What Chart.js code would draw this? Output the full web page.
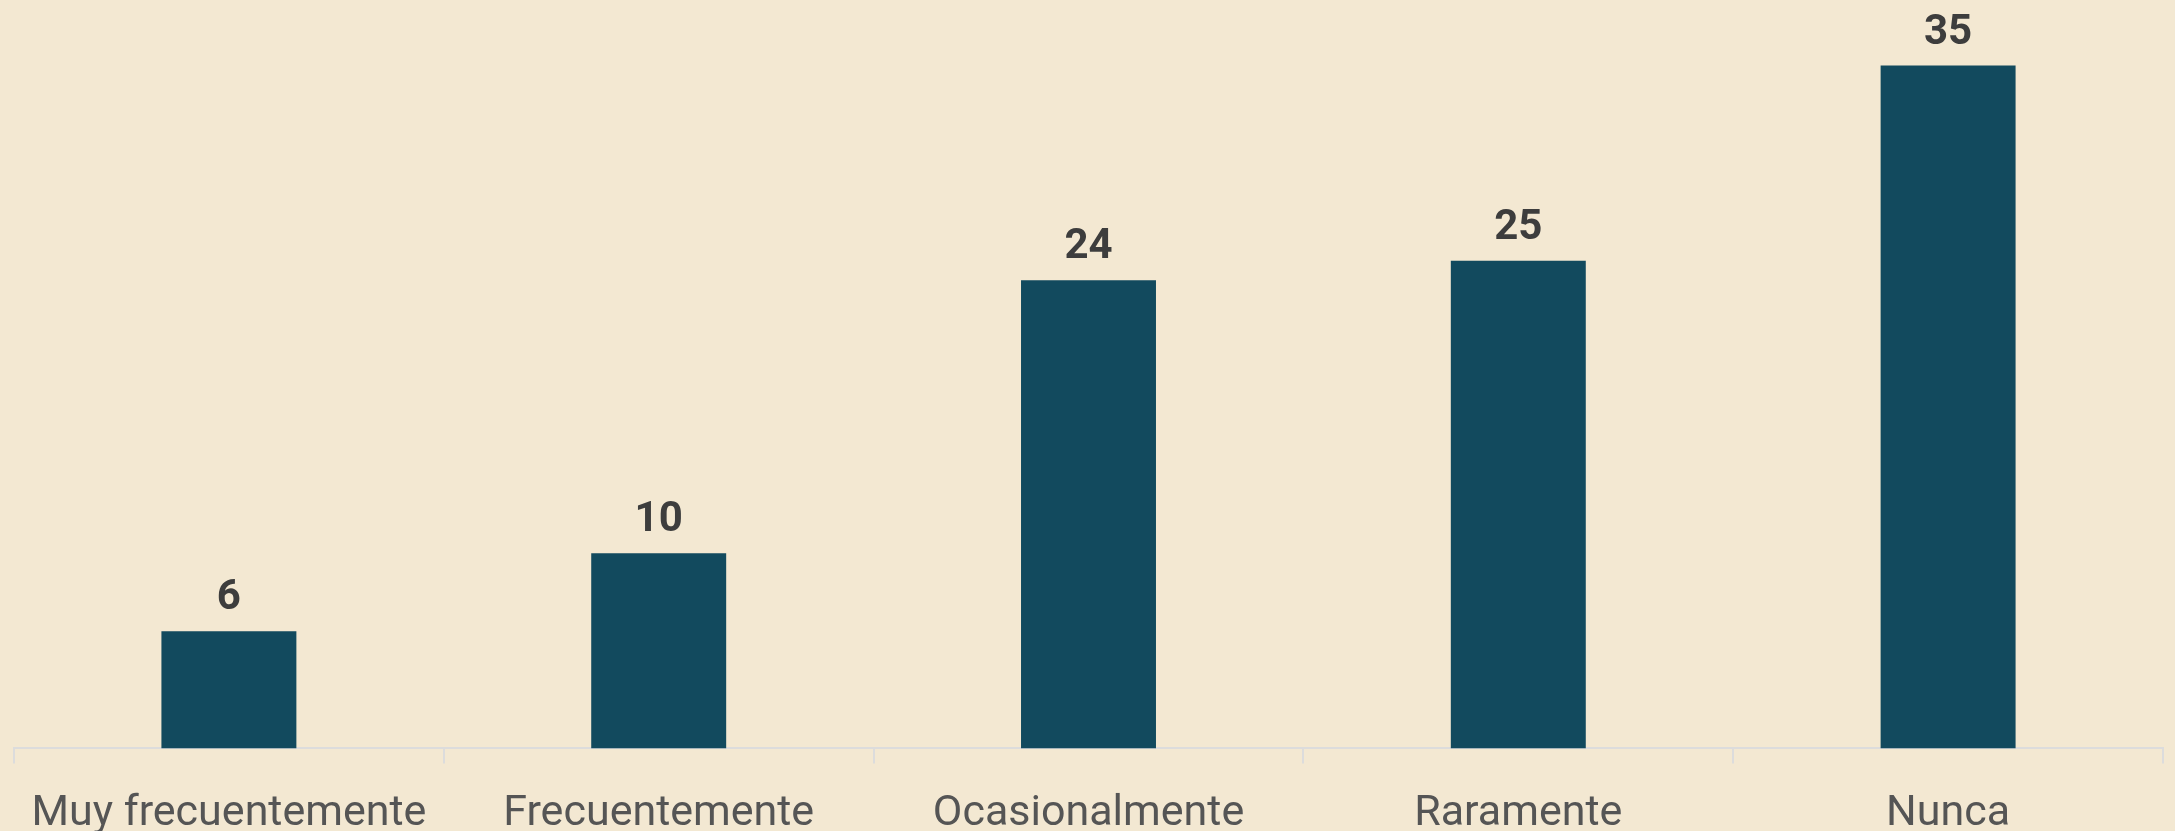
<!DOCTYPE html>
<html>

<head>
  <title>Frecuencia</title>
  <script src="https://cdn.jsdelivr.net/npm/chart.js"></script>
  <style>
    html, body { margin: 0; padding: 0; background: #f3e8d2; overflow: hidden; }
    #wrap { width: 2175px; height: 865px; }
  </style>
</head>

<body>
  <div id="wrap"><canvas id="myChart"></canvas></div>
  <script>
    var categories = ['Muy frecuentemente', 'Frecuentemente', 'Ocasionalmente', 'Raramente', 'Nunca'];
    var values = [6, 10, 24, 25, 35];

    // simple value labels above each bar
    var valueLabels = {
      id: 'valueLabels',
      afterDatasetsDraw: function (chart) {
        var ctx = chart.ctx;
        var meta = chart.getDatasetMeta(0);
        ctx.save();
        ctx.font = 'bold 42px Roboto';
        ctx.fillStyle = '#3d3d3d';
        ctx.textAlign = 'center';
        ctx.textBaseline = 'alphabetic';
        meta.data.forEach(function (bar, i) {
          ctx.fillText(String(chart.data.datasets[0].data[i]), bar.x, bar.y - 22);
        });
        ctx.restore();
      }
    };

    var ctx = document.getElementById('myChart').getContext('2d');
    var myChart = new Chart(ctx, {
      type: 'bar',
      data: {
        labels: categories,
        datasets: [{
          data: values,
          backgroundColor: '#124a5e',
          borderWidth: 0,
          categoryPercentage: 1,
          barPercentage: 0.314
        }]
      },
      options: {
        responsive: true,
        maintainAspectRatio: false,
        animation: false,
        layout: { padding: { left: 14, right: 12, top: 7, bottom: 0 } },
        plugins: {
          legend: { display: false },
          tooltip: { enabled: false }
        },
        scales: {
          x: {
            offset: true,
            grid: {
              offset: true,
              drawOnChartArea: false,
              drawTicks: true,
              tickLength: 15,
              color: '#dcdcdc',
              lineWidth: 2
            },
            border: { display: true, color: '#dcdcdc', width: 2 },
            ticks: {
              padding: 25,
              color: '#555555',
              maxRotation: 0,
              autoSkip: false,
              font: { family: 'Roboto', size: 43 }
            }
          },
          y: {
            display: false,
            min: 0,
            max: 38
          }
        }
      },
      plugins: [valueLabels]
    });
  </script>
</body>

</html>
